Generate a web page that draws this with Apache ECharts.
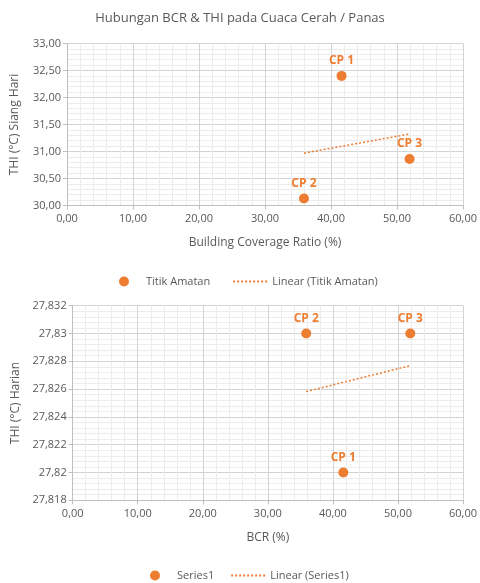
<!DOCTYPE html>
<html><head><meta charset="utf-8">
<script src="https://cdn.jsdelivr.net/npm/echarts@6/dist/echarts.min.js"></script>
<style>html,body{margin:0;padding:0;background:#fff}#c{width:480px;height:583px}</style>
</head><body><div id="c"></div>
<script>
// Data
const pointNames = ['CP 1', 'CP 2', 'CP 3'];
const bcr = [41.6, 35.9, 51.9];
const thiSiang = [32.40, 30.13, 30.86];
const thiHarian = [27.82, 27.83, 27.83];
const titleText = 'Hubungan BCR & THI pada Cuaca Cerah / Panas';
const series1Name = 'Titik Amatan';
const trend1Name = 'Linear (Titik Amatan)';
const series2Name = 'Series1';
const trend2Name = 'Linear (Series1)';

function linFit(xs, ys) {
  const n = xs.length;
  const mx = xs.reduce((a, b) => a + b, 0) / n;
  const my = ys.reduce((a, b) => a + b, 0) / n;
  let sxy = 0, sxx = 0;
  for (let i = 0; i < n; i++) { sxy += (xs[i] - mx) * (ys[i] - my); sxx += (xs[i] - mx) ** 2; }
  const b = sxy / sxx, a = my - b * mx;
  const x0 = Math.min(...xs), x1 = Math.max(...xs);
  return [[x0, a + b * x0], [x1, a + b * x1]];
}

const orange = '#ED7D31';
const font = 'Open Sans';
const txt = '#595959';
const comma = (v, d) => (d == null ? String(+v.toFixed(3)) : v.toFixed(d)).replace('.', ',');

function xAxisCfg(idx, name) {
  return {
    type: 'value', gridIndex: idx, min: 0, max: 60, interval: 10,
    name: name, nameLocation: 'middle', nameGap: 31,
    nameTextStyle: { color: txt, fontFamily: font, fontSize: 12 },
    axisLine: { show: true, lineStyle: { color: '#bfbfbf' } },
    axisTick: { show: true, length: 4, lineStyle: { color: '#bfbfbf' } },
    axisLabel: { color: txt, fontFamily: font, fontSize: 11, margin: 8, formatter: v => comma(v, 2) },
    splitLine: { show: true, lineStyle: { color: '#d4d4d4' } },
    minorTick: { show: true, splitNumber: 5, length: 0 },
    minorSplitLine: { show: true, lineStyle: { color: '#ececec' } }
  };
}
function yAxisCfg(idx, name, min, max, interval, dec, gap) {
  return {
    type: 'value', gridIndex: idx, min: min, max: max, interval: interval,
    name: name, nameLocation: 'middle', nameGap: gap,
    nameTextStyle: { color: txt, fontFamily: font, fontSize: 12 },
    axisLine: { show: true, lineStyle: { color: '#bfbfbf' } },
    axisTick: { show: true, length: 4, lineStyle: { color: '#bfbfbf' } },
    axisLabel: { color: txt, fontFamily: font, fontSize: 11, margin: 6, formatter: v => comma(v, dec) },
    splitLine: { show: true, lineStyle: { color: '#d4d4d4' } },
    minorTick: { show: true, splitNumber: 5, length: 0 },
    minorSplitLine: { show: true, lineStyle: { color: '#ececec' } }
  };
}

const chart = echarts.init(document.getElementById('c'), null, { renderer: 'canvas' });
const labelCfg = { show: true, position: 'top', distance: 4, color: orange, fontWeight: 'bold', fontFamily: font, fontSize: 12, formatter: p => p.data[2] };
const hideSym = { opacity: 0, borderWidth: 0 };
const legendText = { color: txt, fontFamily: font, fontSize: 11 };

chart.setOption({
  animation: false,
  title: { text: titleText, left: 'center', top: 7, textStyle: { color: txt, fontFamily: font, fontSize: 13, fontWeight: 'normal' } },
  grid: [
    { left: 67, right: 16, top: 43.5, height: 162 },
    { left: 72.7, right: 16, top: 305.7, height: 194.6 }
  ],
  xAxis: [xAxisCfg(0, 'Building Coverage Ratio (%)'), xAxisCfg(1, 'BCR (%)')],
  yAxis: [
    yAxisCfg(0, 'THI (°C) Siang Hari', 30, 33, 0.5, 2, 46),
    yAxisCfg(1, 'THI (°C) Harian', 27.818, 27.832, 0.002, null, 51)
  ],
  legend: [
    { data: [{ name: series1Name, icon: 'circle' }, { name: trend1Name, itemStyle: hideSym }], left: 114, top: 271, itemGap: 22, textStyle: legendText, itemWidth: 34, itemHeight: 10 },
    { data: [{ name: series2Name, icon: 'circle' }, { name: trend2Name, itemStyle: hideSym }], left: 145, top: 565, itemGap: 16, textStyle: legendText, itemWidth: 34, itemHeight: 10 }
  ],
  series: [
    { name: series1Name, type: 'scatter', xAxisIndex: 0, yAxisIndex: 0, symbolSize: 10, itemStyle: { color: orange, opacity: 1 }, label: labelCfg,
      data: bcr.map((x, i) => [x, thiSiang[i], pointNames[i]]) },
    { name: trend1Name, type: 'line', xAxisIndex: 0, yAxisIndex: 0, symbol: 'none', lineStyle: { color: orange, width: 1.5, type: [2, 2] }, itemStyle: { color: orange },
      data: linFit(bcr, thiSiang) },
    { name: series2Name, type: 'scatter', xAxisIndex: 1, yAxisIndex: 1, symbolSize: 10, itemStyle: { color: orange, opacity: 1 }, label: labelCfg,
      data: bcr.map((x, i) => [x, thiHarian[i], pointNames[i]]) },
    { name: trend2Name, type: 'line', xAxisIndex: 1, yAxisIndex: 1, symbol: 'none', lineStyle: { color: orange, width: 1.5, type: [2, 2] }, itemStyle: { color: orange },
      data: linFit(bcr, thiHarian) }
  ]
});
</script>
</body></html>
